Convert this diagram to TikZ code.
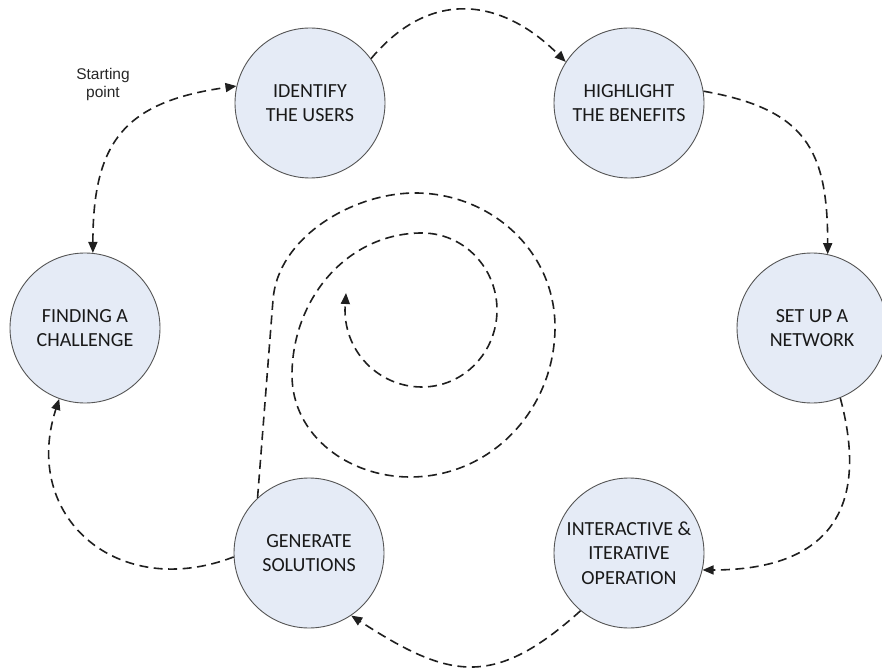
\documentclass[tikz,border=0pt]{standalone}
\usepackage{fontspec}
\setmainfont{Carlito}
\newfontfamily\notefont{Liberation Sans}
\usetikzlibrary{arrows.meta}
\definecolor{stagefill}{RGB}{229,235,246}
\definecolor{stageedge}{RGB}{85,85,85}

\tikzset{
  stage/.style={circle, draw=stageedge, fill=stagefill, line width=0.9pt,
    minimum size=150pt, inner sep=0pt, align=center, text=black!90,
    font=\fontsize{20}{24.4}\selectfont},
  flow/.style={line width=1.6pt, draw=black!88, dash pattern=on 9pt off 5.5pt},
  note/.style={align=center, text=black!85, font=\notefont\fontsize{15.5}{18}\selectfont}
}

\begin{document}
\begin{tikzpicture}[x=1pt, y=1pt, >={Triangle[length=11pt,width=9pt]}]
  \useasboundingbox (0,0) rectangle (882,670);

  % the six stages of the cycle
  \node[stage] (challenge) at (85,342)  {FINDING A\\CHALLENGE};
  \node[stage] (users)     at (310,567) {IDENTIFY\\THE USERS};
  \node[stage] (benefits)  at (629,567) {HIGHLIGHT\\THE BENEFITS};
  \node[stage] (network)   at (812,342) {SET UP A\\NETWORK};
  \node[stage] (iterate)   at (629,117) {INTERACTIVE \&\\ITERATIVE\\OPERATION};
  \node[stage] (solutions) at (309,117) {GENERATE\\SOLUTIONS};

  \node[note] (start) at (103,586) {Starting\\point};

  % arrows round the ring
  \draw[flow, <->] (challenge.84) to[out=90, in=188, looseness=1.3] (users.167);
  \draw[flow, ->] (users.36) to[out=50, in=135, looseness=1.2] (benefits.147);
  \draw[flow, ->] (benefits.9) to[out=-10, in=90, looseness=1.3] (network.78);
  \draw[flow, ->] (network.-68) to[out=-75, in=0, looseness=1.4] (iterate.-13);
  \draw[flow, ->] (iterate.230) to[out=222, in=-33, looseness=1.3] (solutions.-56);
  \draw[flow, ->] (solutions.183) to[out=201, in=252, looseness=1.35] (challenge.250);

  % spiral winding in from the solutions
  \coordinate (spiralend) at (346,377);
  \draw[flow, ->] (solutions.133) -- (273,370)
    to[out=86, in=180, looseness=0.9] (415,477)
    to[out=0, in=90] (555,343)
    to[out=-90, in=0] (410,193)
    to[out=180, in=-90] (292,295)
    to[out=90, in=180] (422,437)
    to[out=0, in=90] (497,360)
    to[out=-90, in=0] (422,283)
    to[out=180, in=-90] (345,360) -- (spiralend);
\end{tikzpicture}
\end{document}
